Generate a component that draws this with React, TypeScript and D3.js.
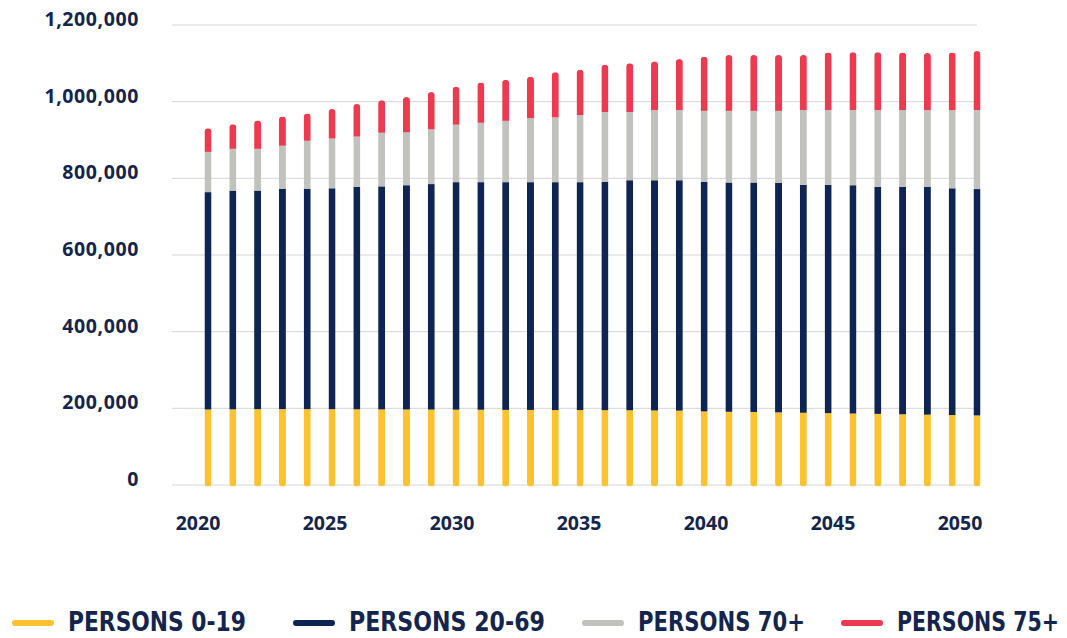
import { useLayoutEffect, useRef, useState } from "react";
import * as d3 from "d3";

// bar categories (32 bars), x tick labels and y ticks
const years = [
  2020, 2021, 2022, 2023, 2024, 2025, 2026, 2027, 2028, 2029, 2030, 2031, 2032, 2033, 2034, 2035,
  2036, 2037, 2038, 2039, 2040, 2041, 2042, 2043, 2044, 2045, 2046, 2047, 2048, 2049, 2050, 2051,
];
const yearTicks = [2020, 2025, 2030, 2035, 2040, 2045, 2050];
const yTicks = [0, 200000, 400000, 600000, 800000, 1000000, 1200000];

// series values, in thousands
const persons0_19 = [
  197, 197.5, 197.8, 198, 198, 197.8, 197.5, 197.2, 197, 196.8, 196.5, 196.3, 196, 195.8, 195.6, 195.4,
  195.2, 195, 194.5, 194, 192, 191, 190.5, 189.5, 188.5, 187.5, 186.5, 185.5, 184.5, 183.5, 182.5, 181.5,
];
const persons20_69 = [
  567, 570.5, 570.2, 575, 575, 576.2, 580.5, 581.8, 585, 588.2, 593.5, 593.7, 594, 594.2, 594.4, 594.6,
  595.8, 600, 600.5, 601, 599, 598, 598.5, 598.5, 594.5, 595.5, 595.5, 592.5, 593.5, 594.5, 591.5, 590.5,
];
const persons70 = [
  105, 109, 109, 112, 125, 130, 131, 140, 138, 143, 150, 155, 160, 167, 169, 175,
  182, 178, 183, 183, 185, 187, 187, 188, 195, 195, 196, 200, 200, 200, 204, 206,
];
const persons75 = [
  61.5, 64, 74, 76, 71, 77, 85, 85, 92, 97, 99, 105, 107, 108, 118, 118,
  123, 127, 127, 133, 141, 146, 146, 146, 144, 150, 151, 151, 150, 149, 150, 154,
];

const seriesNames = ["PERSONS 0-19", "PERSONS 20-69", "PERSONS 70+", "PERSONS 75+"];
const seriesColors = ["#fdc22f", "#0e2452", "#c1c1bd", "#ee3a4f"];

const navy = "#14254d";

// legend label squeezed to the condensed width seen in the picture
function LegendLabel({ x, y, w, children }: { x: number; y: number; w: number; children: string }) {
  const ref = useRef<SVGTextElement>(null);
  const [sx, setSx] = useState(1);
  useLayoutEffect(() => {
    if (ref.current) {
      const len = ref.current.getComputedTextLength();
      if (len > 0) setSx(w / len);
    }
  }, [w, children]);
  return (
    <text
      ref={ref}
      transform={`translate(${x},${y}) scale(${sx},1)`}
      fontFamily="'Liberation Sans Narrow', 'DejaVu Sans Condensed', sans-serif"
      fontWeight={700}
      fontSize={27}
      fill={navy}
    >
      {children}
    </text>
  );
}

export default function App() {
  const width = 1067;
  const height = 638;

  const rows = years.map((year, i) => ({
    year,
    s0: persons0_19[i] * 1000,
    s1: persons20_69[i] * 1000,
    s2: persons70[i] * 1000,
    s3: persons75[i] * 1000,
  }));
  const stack = d3.stack<any>().keys(["s0", "s1", "s2", "s3"]);
  const layers = stack(rows);

  const y = d3.scaleLinear().domain([0, 1200000]).range([485, 25]);
  const xBar = d3.scalePoint<number>().domain(years).range([208, 977]);
  const xTick = d3.scaleLinear().domain([2020, 2050]).range([198, 960]);
  const fmt = d3.format(",");

  const barW = 7;

  const legendX = [12, 293, 582, 841];
  const legendW = [178, 196, 167, 162];

  return (
    <svg
      width={width}
      height={height}
      style={{ position: "absolute", left: 0, top: 0, background: "#fff" }}
    >
      <defs>
        {years.map((yr) => {
          const total = layers[3].find((d) => d.data.year === yr)![1];
          return (
            <clipPath id={`bar-${yr}`} key={yr}>
              <rect
                x={xBar(yr)! - barW / 2}
                y={y(total)}
                width={barW}
                height={y(0) - y(total) + 1.5}
                rx={barW / 2}
              />
            </clipPath>
          );
        })}
      </defs>

      {/* gridlines and y labels */}
      {yTicks.map((t) => (
        <g key={t}>
          <line x1={172} x2={977} y1={y(t)} y2={y(t)} stroke="#d6d6d6" strokeWidth={1} />
          <text
            x={139}
            y={y(t) + 1}
            textAnchor="end"
            fontFamily="'Open Sans', sans-serif"
            fontWeight={700}
            fontSize={19.5}
            letterSpacing={0.6}
            fill={navy}
          >
            {fmt(t)}
          </text>
        </g>
      ))}

      {/* bars */}
      {years.map((yr, i) => (
        <g key={yr} clipPath={`url(#bar-${yr})`}>
          {layers.map((layer, k) => {
            const d = layer[i];
            const top = y(d[1]);
            const bottom = k === 0 ? y(0) + 1.5 : y(d[0]);
            return (
              <rect
                key={k}
                x={xBar(yr)! - barW / 2}
                y={top}
                width={barW}
                height={bottom - top}
                fill={seriesColors[k]}
              />
            );
          })}
        </g>
      ))}

      {/* x labels */}
      {yearTicks.map((t) => (
        <text
          key={t}
          x={xTick(t)}
          y={530}
          textAnchor="middle"
          fontFamily="'Open Sans', sans-serif"
          fontWeight={700}
          fontSize={19.5}
          fill={navy}
        >
          {t}
        </text>
      ))}

      {/* legend */}
      {seriesNames.map((name, k) => (
        <g key={name}>
          <line
            x1={legendX[k] + 3}
            x2={legendX[k] + 39}
            y1={623}
            y2={623}
            stroke={seriesColors[k]}
            strokeWidth={6}
            strokeLinecap="round"
          />
          <LegendLabel x={legendX[k] + 56} y={631} w={legendW[k]}>
            {name}
          </LegendLabel>
        </g>
      ))}
    </svg>
  );
}
